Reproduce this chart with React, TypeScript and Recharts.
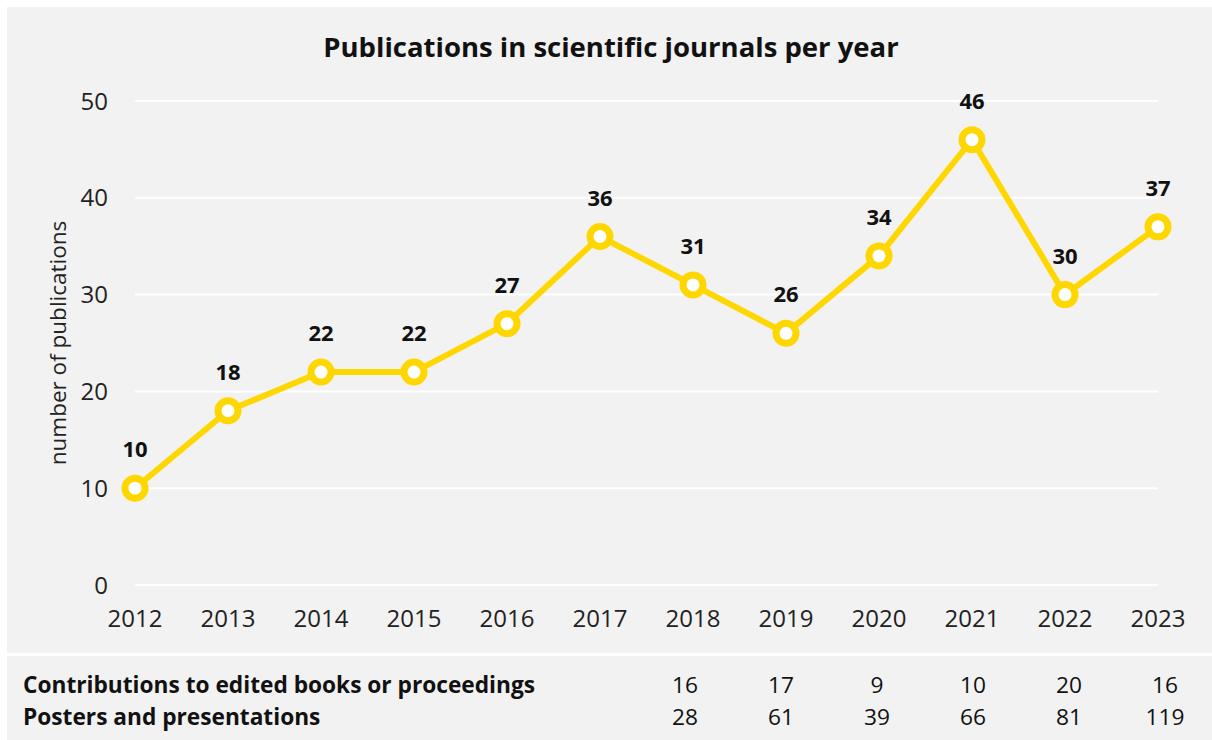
import React from 'react';
import { LineChart, Line, XAxis, YAxis, CartesianGrid, LabelList, Label } from 'recharts';

const years = ['2012', '2013', '2014', '2015', '2016', '2017', '2018', '2019', '2020', '2021', '2022', '2023'];
const journals = [10, 18, 22, 22, 27, 36, 31, 26, 34, 46, 30, 37];
const yTicks = [0, 10, 20, 30, 40, 50];

const tableYears = ['2018', '2019', '2020', '2021', '2022', '2023'];
const bookContributions = [16, 17, 9, 10, 20, 16];
const posters = [28, 61, 39, 66, 81, 119];

const FONT = '"Open Sans", "Noto Sans", sans-serif';
const YELLOW = '#FFD700';
const BG = '#f2f2f2';

const data = years.map((year, i) => ({ year, value: journals[i] }));

const tableRows = [
  { label: 'Contributions to edited books or proceedings', values: bookContributions },
  { label: 'Posters and presentations', values: posters },
];

// table column centres (relative to the lower panel)
const COL_FIRST = 678;
const COL_STEP = 96;

const App: React.FC = () => {
  return (
    <div style={{ position: 'absolute', left: 0, top: 0, width: 1212, height: 740, background: '#fff', fontFamily: FONT }}>
      <div style={{ position: 'absolute', left: 7, top: 7, width: 1205, height: 646, background: BG }}>
        <div
          style={{
            position: 'absolute',
            left: 0,
            top: 20,
            width: 1208,
            textAlign: 'center',
            fontSize: 27.5,
            lineHeight: '40px',
            fontWeight: 700,
            color: '#111',
          }}
        >
          Publications in scientific journals per year
        </div>
        <LineChart width={1203} height={646} data={data} margin={{ top: 94, right: 52, left: 0, bottom: 0 }}>
          <CartesianGrid vertical={false} stroke="#ffffff" strokeWidth={2} />
          <XAxis
            dataKey="year"
            axisLine={false}
            tickLine={false}
            tickSize={0}
            tickMargin={25}
            height={68}
            tick={{ fontSize: 24, fill: '#222', fontFamily: FONT }}
          />
          <YAxis
            domain={[0, 50]}
            ticks={yTicks}
            axisLine={false}
            tickLine={false}
            tickSize={0}
            tickMargin={27}
            width={128}
            tick={{ fontSize: 24, fill: '#222', fontFamily: FONT }}
          >
            <Label
              value="number of publications"
              angle={-90}
              position="insideLeft"
              offset={51}
              style={{ fontSize: 22.5, fill: '#222', fontFamily: FONT, textAnchor: 'middle' }}
            />
          </YAxis>
          <Line
            type="linear"
            dataKey="value"
            stroke={YELLOW}
            strokeWidth={6}
            dot={{ r: 10, fill: '#ffffff', stroke: YELLOW, strokeWidth: 7 }}
            activeDot={false}
            isAnimationActive={false}
          >
            <LabelList
              dataKey="value"
              position="top"
              offset={31}
              style={{ fontSize: 22, fontWeight: 700, fill: '#111', fontFamily: FONT }}
            />
          </Line>
        </LineChart>
      </div>
      <div style={{ position: 'absolute', left: 7, top: 656, width: 1205, height: 84, background: BG, color: '#111' }}>
        {tableRows.map((row, r) => (
          <div
            key={row.label}
            style={{ position: 'absolute', left: 0, top: 13 + r * 32, width: 1205, height: 32, lineHeight: '32px', fontSize: 22.7 }}
          >
            <span style={{ position: 'absolute', left: 16, top: 0, fontWeight: 700, whiteSpace: 'nowrap' }}>{row.label}</span>
            {row.values.map((v, i) => (
              <span
                key={tableYears[i]}
                style={{
                  position: 'absolute',
                  left: COL_FIRST + COL_STEP * i - 40,
                  width: 80,
                  top: 0,
                  textAlign: 'center',
                }}
              >
                {v}
              </span>
            ))}
          </div>
        ))}
      </div>
    </div>
  );
};

export default App;
